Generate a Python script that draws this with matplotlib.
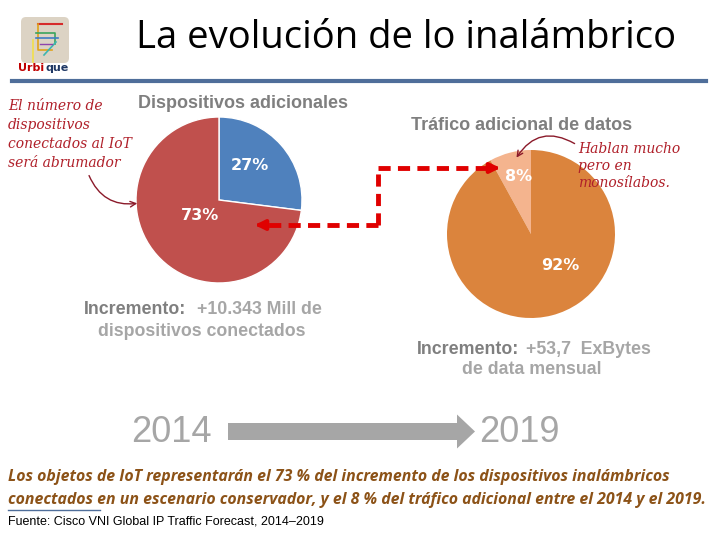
import matplotlib.pyplot as plt
from matplotlib.patches import FancyBboxPatch, FancyArrow

# datos
dev_labels = ['IoT', 'Otros']
dev_share = [27, 73]
dev_colors = ['#4F81BD', '#C0504D']

traffic_labels = ['IoT', 'Otros']
traffic_share = [8, 92]
traffic_colors = ['#F4B48E', '#DB843D']

title = 'La evolución de lo inalámbrico'
year_from, year_to = '2014', '2019'

W, H = 720, 540
fig = plt.figure(figsize=(7.2, 5.4), dpi=100)
ax = fig.add_axes([0, 0, 1, 1])
ax.set_xlim(0, W)
ax.set_ylim(H, 0)
ax.axis('off')
ax.set_zorder(5)


def pie_axes(cx, cy, r):
    a = fig.add_axes([(cx - r) / W, 1 - (cy + r) / H, 2 * r / W, 2 * r / H])
    a.set_zorder(1)
    return a


# titulo + linea
ax.text(406, 38, title, fontsize=27.5, family='Open Sans', ha='center', va='center', color='black')
ax.plot([12, 706], [81, 81], color='#4F6E9A', lw=3)

# logo
ax.add_patch(FancyBboxPatch((21, 17), 48, 46, boxstyle='round,pad=0,rounding_size=5',
                            fc='#DCD3C4', ec='none'))
ax.plot([38, 62], [24, 24], color='#D62B2B', lw=1.5)
ax.plot([38, 38, 52], [24, 50, 50], color='#E0A21A', lw=1.2)
ax.plot([33, 33], [40, 62], color='#F2E04A', lw=1.2)
ax.plot([36, 55, 55], [33, 33, 44], color='#3BA55D', lw=1.2)
ax.plot([36, 58], [38, 38], color='#3E7CC4', lw=1.2)
ax.plot([44, 56], [55, 42], color='#3DB6B0', lw=1.2)
ax.plot([40, 52], [44, 44], color='#8E44AD', lw=1.0)
ax.text(44, 68, 'Urbi', fontsize=8, weight='bold', color='#C00000', va='center', ha='right')
ax.text(45, 68, 'que', fontsize=8, weight='bold', color='#1F3864', va='center', ha='left')

# pie izquierdo
lcx, lcy, lr = 219, 200, 83
axl = pie_axes(lcx, lcy, lr)
axl.pie(dev_share, colors=dev_colors, startangle=90, counterclock=False,
        wedgeprops=dict(edgecolor='white', linewidth=1))
axl.set_xlim(-1, 1)
axl.set_ylim(-1, 1)
axl.text(0.37, 0.41, f'{dev_share[0]}%', color='white', fontsize=11.5, weight='bold', ha='center', va='center')
axl.text(-0.23, -0.19, f'{dev_share[1]}%', color='white', fontsize=11.5, weight='bold', ha='center', va='center')

# pie derecho
rcx, rcy, rr = 531, 234, 84
axr = pie_axes(rcx, rcy, rr)
axr.pie(traffic_share, colors=traffic_colors, startangle=90, counterclock=True,
        wedgeprops=dict(edgecolor='none'))
axr.set_xlim(-1, 1)
axr.set_ylim(-1, 1)
axr.text(-0.15, 0.68, f'{traffic_share[0]}%', color='white', fontsize=11.5, weight='bold', ha='center', va='center')
axr.text(0.35, -0.38, f'{traffic_share[1]}%', color='white', fontsize=11.5, weight='bold', ha='center', va='center')

# titulos de los pies
gray_dark = '#7F7F7F'
gray_light = '#A6A6A6'
ax.text(243, 103, 'Dispositivos adicionales', fontsize=13, weight='bold', color=gray_dark,
        family='Liberation Sans', ha='center', va='center')
ax.text(522, 126, 'Tráfico adicional de datos', fontsize=13, weight='bold', color=gray_dark,
        family='Liberation Sans', ha='center', va='center')

# incrementos
kw = dict(fontsize=12.8, weight='bold', family='Liberation Sans', va='center')
ax.text(186, 310, 'Incremento:', color=gray_dark, ha='right', **kw)
ax.text(197, 310, '+10.343 Mill de', color=gray_light, ha='left', **kw)
ax.text(202, 331, 'dispositivos conectados', color=gray_light, ha='center', **kw)
ax.text(519, 349, 'Incremento:', color=gray_dark, ha='right', **kw)
ax.text(526, 349, '+53,7  ExBytes', color=gray_light, ha='left', **kw)
ax.text(532, 370, 'de data mensual', color=gray_light, ha='center', **kw)

# notas manuscritas
hand = dict(fontsize=10, style='italic', family='DejaVu Serif', color='#B0202A', va='center')
for i, line in enumerate(['El número de', 'dispositivos', 'conectados al IoT', 'será abrumador']):
    ax.text(8, 106 + i * 19, line, **hand)
for i, line in enumerate(['Hablan mucho', 'pero en', 'monosílabos.']):
    ax.text(578, 149 + i * 17, line, **hand)

ax.annotate('', xy=(140, 203), xytext=(88, 173),
            arrowprops=dict(arrowstyle='->', color='#8B1A2A', lw=1,
                            connectionstyle='arc3,rad=0.4'))
ax.annotate('', xy=(515, 160), xytext=(577, 145),
            arrowprops=dict(arrowstyle='->', color='#8B1A2A', lw=1,
                            connectionstyle='arc3,rad=0.5'))

# flecha roja discontinua
red = '#E00000'
dash = (0, (2.5, 1.5))
ax.plot([378, 262], [225, 225], color=red, lw=3.5, ls=dash)
ax.plot([378, 378], [225, 168], color=red, lw=3.5, ls=dash)
ax.plot([378, 490], [168, 168], color=red, lw=3.5, ls=dash)
ax.annotate('', xy=(252, 225), xytext=(266, 225),
            arrowprops=dict(arrowstyle='-|>', color=red, lw=3, mutation_scale=14))
ax.annotate('', xy=(503, 168), xytext=(489, 168),
            arrowprops=dict(arrowstyle='-|>', color=red, lw=3, mutation_scale=14))

# 2014 -> 2019
ax.text(171, 432, year_from, fontsize=26, color=gray_light, family='Liberation Sans',
        ha='center', va='center')
ax.text(519, 432, year_to, fontsize=26, color=gray_light, family='Liberation Sans',
        ha='center', va='center')
ax.add_patch(FancyArrow(228, 431.5, 247, 0, width=17, head_width=34, head_length=18,
                        length_includes_head=True, fc='#A6A6A6', ec='none'))

# texto inferior
brown = '#8C5217'
bkw = dict(fontsize=11.4, weight='bold', style='italic', family='Open Sans', color=brown, va='center')
ax.text(8, 477, 'Los objetos de IoT representarán el 73 % del incremento de los dispositivos inalámbricos', **bkw)
ax.text(8, 500, 'conectados en un escenario conservador, y el 8 % del tráfico adicional entre el 2014 y el 2019.', **bkw)
ax.plot([8, 100], [510, 510], color='#4F6E9A', lw=1)
ax.text(8, 522, 'Fuente: Cisco VNI Global IP Traffic Forecast, 2014\u20132019', fontsize=9,
        family='Liberation Sans', color='black', va='center')

fig.savefig('out.png', dpi=100)
